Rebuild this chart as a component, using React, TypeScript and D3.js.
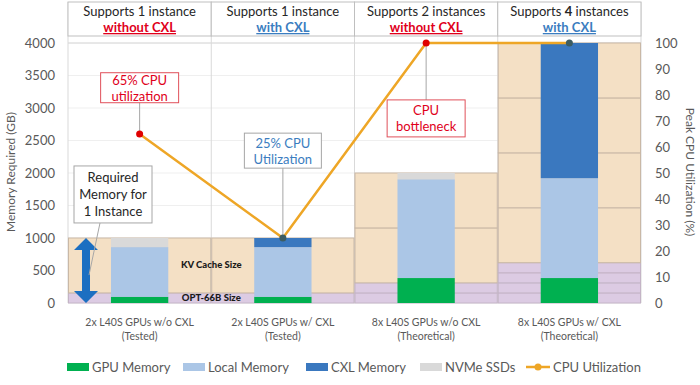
import React, { useEffect, useRef } from "react";
import * as d3 from "d3";

// chart data
const categories = ["2x L40S GPUs w/o CXL", "2x L40S GPUs w/ CXL", "8x L40S GPUs w/o CXL", "8x L40S GPUs w/ CXL"];
const subLabels = ["(Tested)", "(Tested)", "(Theoretical)", "(Theoretical)"];
const gpuMemory = [96, 96, 384, 384];
const localMemory = [764, 764, 1520, 1536];
const cxlMemory = [0, 140, 0, 2080];
const nvmeSsds = [140, 0, 96, 0];
const cpuUtilization = [65, 25, 100, 100];
const instances = [1, 1, 2, 4];
const modelSize = 155; // OPT-66B
const kvCacheSize = 845;
const headerCounts = ["1", "1", "2", "4"];
const headerNouns = ["instance", "instance", "instances", "instances"];
const headerCxl = ["without CXL", "with CXL", "without CXL", "with CXL"];
const leftTicks = [0, 500, 1000, 1500, 2000, 2500, 3000, 3500, 4000];
const rightTicks = [0, 10, 20, 30, 40, 50, 60, 70, 80, 90, 100];
const seriesNames = ["GPU Memory", "Local Memory", "CXL Memory", "NVMe SSDs"];
const seriesColors = ["#00b050", "#abc6e6", "#3a78bf", "#d9d9d9"];

const FONT = "Lato, 'Open Sans', sans-serif";
const RED = "#e0001b";
const BLUE = "#3b7dc0";
const GREY_TEXT = "#595959";

const App = () => {
  const svgRef = useRef<SVGSVGElement>(null);

  useEffect(() => {
    const svg = d3.select(svgRef.current);
    svg.selectAll("*").remove();

    const x = d3.scaleBand<number>().domain([0, 1, 2, 3]).range([68, 641]).padding(0);
    const bw = x.bandwidth();
    const barW = bw * 0.4;
    const cx = (i: number) => (x(i) as number) + bw / 2;
    const y = d3.scaleLinear().domain([0, 4000]).range([303, 43]);
    const yR = d3.scaleLinear().domain([0, 100]).range([303, 43]);

    svg.append("rect").attr("width", 700).attr("height", 385).attr("fill", "#fff");

    // horizontal gridlines
    svg
      .append("g")
      .selectAll("line")
      .data(leftTicks)
      .enter()
      .append("line")
      .attr("x1", 68)
      .attr("x2", 641)
      .attr("y1", (d) => y(d))
      .attr("y2", (d) => y(d))
      .attr("stroke", (d) => (d === 4000 ? "#d0d0d0" : "#efefef"));

    // vertical separators
    svg
      .append("g")
      .selectAll("line")
      .data([0, 1, 2, 3, 4])
      .enter()
      .append("line")
      .attr("x1", (d) => 68 + d * bw)
      .attr("x2", (d) => 68 + d * bw)
      .attr("y1", 2)
      .attr("y2", 303)
      .attr("stroke", "#d9d9d9");

    // background instance bands
    const bands: { i: number; y0: number; y1: number; kind: string }[] = [];
    instances.forEach((n, i) => {
      for (let k = 0; k < n; k++) bands.push({ i, y0: k * modelSize, y1: (k + 1) * modelSize, kind: "model" });
      for (let k = 0; k < n; k++)
        bands.push({ i, y0: n * modelSize + k * kvCacheSize, y1: n * modelSize + (k + 1) * kvCacheSize, kind: "kv" });
    });
    svg
      .append("g")
      .selectAll("rect")
      .data(bands)
      .enter()
      .append("rect")
      .attr("x", (d) => (x(d.i) as number) + 0.5)
      .attr("width", bw - 1)
      .attr("y", (d) => y(d.y1))
      .attr("height", (d) => y(d.y0) - y(d.y1))
      .attr("fill", (d) => (d.kind === "model" ? "#dccbe3" : "#f4e0c5"))
      .attr("stroke", (d) => (d.kind === "model" ? "#c4b4c6" : "#c9b8a6"))
      .attr("stroke-width", 1);

    // stacked bars
    const table = categories.map((c, i) => ({
      i,
      gpu: gpuMemory[i],
      local: localMemory[i],
      cxl: cxlMemory[i],
      nvme: nvmeSsds[i],
    }));
    const stack = d3.stack<any>().keys(["gpu", "local", "cxl", "nvme"]);
    const layers = stack(table);
    svg
      .append("g")
      .selectAll("g")
      .data(layers)
      .enter()
      .append("g")
      .attr("fill", (d, k) => seriesColors[k])
      .selectAll("rect")
      .data((d) => d)
      .enter()
      .append("rect")
      .attr("x", (d) => cx(d.data.i) - barW / 2)
      .attr("width", barW)
      .attr("y", (d) => y(d[1]))
      .attr("height", (d) => y(d[0]) - y(d[1]));

    // band labels
    svg
      .append("text")
      .attr("x", x(1) as number)
      .attr("y", y(modelSize + kvCacheSize / 2) + 3)
      .attr("text-anchor", "middle")
      .attr("font-family", FONT)
      .attr("font-size", 9.5)
      .attr("font-weight", "900")
      .attr("fill", "#1a1a1a")
      .text("KV Cache Size");
    svg
      .append("text")
      .attr("x", x(1) as number)
      .attr("y", y(modelSize / 2) + 3.5)
      .attr("text-anchor", "middle")
      .attr("font-family", FONT)
      .attr("font-size", 9.5)
      .attr("font-weight", "900")
      .attr("fill", "#1a1a1a")
      .text("OPT-66B Size");

    // double arrow for 1 instance
    const ax = (x(0) as number) + 18;
    const aTop = y(modelSize + kvCacheSize);
    const aBot = y(0);
    svg
      .append("path")
      .attr(
        "d",
        `M${ax},${aTop} L${ax + 12},${aTop + 12} L${ax + 4},${aTop + 12} L${ax + 4},${aBot - 12} L${ax + 12},${aBot - 12} L${ax},${aBot} L${ax - 12},${aBot - 12} L${ax - 4},${aBot - 12} L${ax - 4},${aTop + 12} L${ax - 12},${aTop + 12} Z`
      )
      .attr("fill", "#1c6fc1");

    // callouts
    const callouts = [
      { px: cx(0), py: yR(cpuUtilization[0]), bx: cx(0), by: yR(82.8), w: 78, h: 30, lines: ["65% CPU", "utilization"], color: RED, border: "#e0505a" },
      { px: cx(1), py: yR(cpuUtilization[1]), bx: cx(1), by: yR(58.6), w: 77, h: 35, lines: ["25% CPU", "Utilization"], color: BLUE, border: "#a6a6a6" },
      { px: cx(2), py: yR(cpuUtilization[2]), bx: cx(2), by: yR(71), w: 78, h: 37, lines: ["CPU", "bottleneck"], color: RED, border: "#e0505a" },
    ];
    callouts.forEach((c) => {
      svg
        .append("line")
        .attr("x1", c.px)
        .attr("x2", c.bx)
        .attr("y1", c.py)
        .attr("y2", c.by)
        .attr("stroke", "#a6a6a6");
    });
    // required memory connector
    const rq = { bx: (x(0) as number) + 45, by: y(1670), w: 78, h: 57 };
    svg
      .append("line")
      .attr("x1", rq.bx - 13)
      .attr("y1", rq.by + rq.h / 2)
      .attr("x2", ax + 3)
      .attr("y2", y(430))
      .attr("stroke", "#a6a6a6");

    // CPU line
    const line = d3
      .line<number>()
      .x((d, i) => cx(i))
      .y((d) => yR(d));
    svg
      .append("path")
      .datum(cpuUtilization)
      .attr("d", line)
      .attr("fill", "none")
      .attr("stroke", "#eea626")
      .attr("stroke-width", 2.5);
    svg
      .append("g")
      .selectAll("circle")
      .data(cpuUtilization)
      .enter()
      .append("circle")
      .attr("cx", (d, i) => cx(i))
      .attr("cy", (d) => yR(d))
      .attr("r", 3.5)
      .attr("fill", (d, i) => (cxlMemory[i] > 0 ? "#3d5d62" : "#e00000"));

    // callout boxes
    callouts.forEach((c) => {
      svg
        .append("rect")
        .attr("x", c.bx - c.w / 2)
        .attr("y", c.by - c.h / 2)
        .attr("width", c.w)
        .attr("height", c.h)
        .attr("fill", "#fff")
        .attr("stroke", c.border);
      c.lines.forEach((t, k) => {
        svg
          .append("text")
          .attr("x", c.bx)
          .attr("y", c.by + (k - 0.5) * 16 + 5)
          .attr("text-anchor", "middle")
          .attr("font-family", FONT)
          .attr("font-size", 13)
          .attr("fill", c.color)
          .text(t);
      });
    });
    svg
      .append("rect")
      .attr("x", rq.bx - rq.w / 2)
      .attr("y", rq.by - rq.h / 2)
      .attr("width", rq.w)
      .attr("height", rq.h)
      .attr("fill", "#fff")
      .attr("stroke", "#a6a6a6");
    ["Required", "Memory for", "1 Instance"].forEach((t, k) => {
      svg
        .append("text")
        .attr("x", rq.bx)
        .attr("y", rq.by + (k - 1) * 17 + 5)
        .attr("text-anchor", "middle")
        .attr("font-family", FONT)
        .attr("font-size", 13)
        .attr("fill", "#262626")
        .text(t);
    });

    // header cells
    const header = svg.append("g");
    categories.forEach((c, i) => {
      header
        .append("rect")
        .attr("x", x(i) as number)
        .attr("y", 2)
        .attr("width", bw)
        .attr("height", 34)
        .attr("fill", "#fff")
        .attr("stroke", "#bfbfbf");
      const t1 = header
        .append("text")
        .attr("x", cx(i))
        .attr("y", 16)
        .attr("text-anchor", "middle")
        .attr("font-family", FONT)
        .attr("font-size", 13)
        .attr("fill", "#262626");
      t1.append("tspan").text("Supports ");
      t1.append("tspan").attr("font-weight", i === 3 ? "bold" : "normal").text(headerCounts[i]);
      t1.append("tspan").text(" " + headerNouns[i]);
      header
        .append("text")
        .attr("x", cx(i))
        .attr("y", 32)
        .attr("text-anchor", "middle")
        .attr("font-family", FONT)
        .attr("font-size", 13)
        .attr("font-weight", "bold")
        .attr("text-decoration", "underline")
        .attr("fill", headerCxl[i].startsWith("without") ? RED : BLUE)
        .text(headerCxl[i]);
    });

    // axes
    const yAxis = svg.append("g");
    yAxis
      .selectAll("text")
      .data(leftTicks)
      .enter()
      .append("text")
      .attr("x", 55)
      .attr("y", (d) => y(d) + 4.5)
      .attr("text-anchor", "end")
      .attr("font-family", FONT)
      .attr("font-size", 13)
      .attr("fill", GREY_TEXT)
      .text((d) => d);
    const yrAxis = svg.append("g");
    yrAxis
      .selectAll("text")
      .data(rightTicks)
      .enter()
      .append("text")
      .attr("x", 655)
      .attr("y", (d) => yR(d) + 4.5)
      .attr("text-anchor", "start")
      .attr("font-family", FONT)
      .attr("font-size", 13)
      .attr("fill", GREY_TEXT)
      .text((d) => d);

    svg
      .append("text")
      .attr("transform", "translate(15,172) rotate(-90)")
      .attr("text-anchor", "middle")
      .attr("font-family", FONT)
      .attr("font-size", 12)
      .attr("fill", GREY_TEXT)
      .text("Memory Required (GB)");
    svg
      .append("text")
      .attr("transform", "translate(686,172) rotate(90)")
      .attr("text-anchor", "middle")
      .attr("font-family", FONT)
      .attr("font-size", 12)
      .attr("fill", GREY_TEXT)
      .text("Peak CPU Utilization (%)");

    // category labels
    categories.forEach((c, i) => {
      svg
        .append("text")
        .attr("x", cx(i))
        .attr("y", 326)
        .attr("text-anchor", "middle")
        .attr("font-family", FONT)
        .attr("font-size", 10.5)
        .attr("fill", GREY_TEXT)
        .text(c);
      svg
        .append("text")
        .attr("x", cx(i))
        .attr("y", 340)
        .attr("text-anchor", "middle")
        .attr("font-family", FONT)
        .attr("font-size", 10.5)
        .attr("fill", GREY_TEXT)
        .text(subLabels[i]);
    });

    // legend
    const legendX = [67, 183, 306, 420];
    seriesNames.forEach((s, k) => {
      svg
        .append("rect")
        .attr("x", legendX[k])
        .attr("y", 363)
        .attr("width", 22)
        .attr("height", 8)
        .attr("fill", seriesColors[k]);
      svg
        .append("text")
        .attr("x", legendX[k] + 25)
        .attr("y", 372)
        .attr("font-family", FONT)
        .attr("font-size", 13)
        .attr("fill", GREY_TEXT)
        .text(s);
    });
    svg
      .append("line")
      .attr("x1", 526)
      .attr("x2", 550)
      .attr("y1", 367)
      .attr("y2", 367)
      .attr("stroke", "#eea626")
      .attr("stroke-width", 2.5);
    svg.append("circle").attr("cx", 538).attr("cy", 367).attr("r", 3.5).attr("fill", "#eea626");
    svg
      .append("text")
      .attr("x", 553)
      .attr("y", 372)
      .attr("font-family", FONT)
      .attr("font-size", 13)
      .attr("fill", GREY_TEXT)
      .text("CPU Utilization");
  }, []);

  return (
    <div style={{ position: "absolute", left: 0, top: 0 }}>
      <svg ref={svgRef} width={700} height={385}></svg>
    </div>
  );
};

export default App;
